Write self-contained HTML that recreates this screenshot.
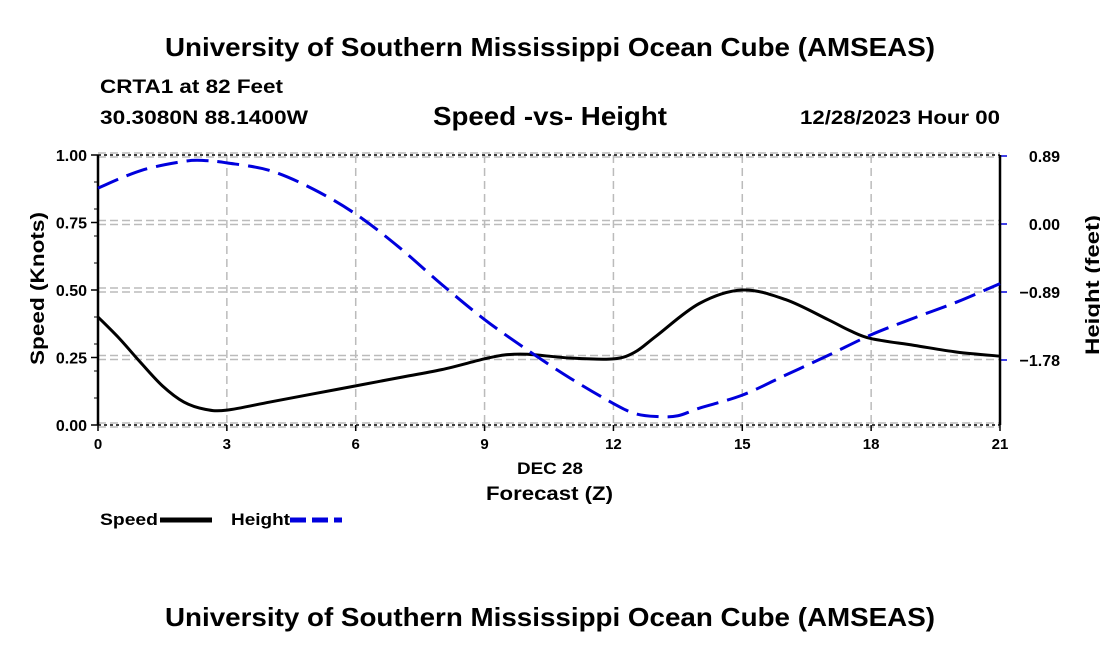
<!DOCTYPE html>
<html><head><meta charset="utf-8"><style>
body{margin:0;background:#fff;width:1100px;height:650px;overflow:hidden}
svg text{font-family:"Liberation Sans",Arial,sans-serif;font-weight:bold;fill:#000}
</style></head><body>
<svg id="chart" width="1100" height="650" xmlns="http://www.w3.org/2000/svg">
<text x="165" y="56" font-size="26" textLength="770" lengthAdjust="spacingAndGlyphs">University of Southern Mississippi Ocean Cube (AMSEAS)</text>
<text x="100" y="93" font-size="19" textLength="183" lengthAdjust="spacingAndGlyphs">CRTA1 at 82 Feet</text>
<text x="100" y="124" font-size="19" textLength="208" lengthAdjust="spacingAndGlyphs">30.3080N  88.1400W</text>
<text x="433" y="125" font-size="26" textLength="234" lengthAdjust="spacingAndGlyphs">Speed -vs- Height</text>
<text x="800" y="124" font-size="19" textLength="200" lengthAdjust="spacingAndGlyphs">12/28/2023 Hour 00</text>
<g id="grid"></g>
<g id="axes"></g>
<g id="series"></g>
<text x="517" y="474" font-size="17" textLength="66" lengthAdjust="spacingAndGlyphs">DEC 28</text>
<text x="486" y="500" font-size="19" textLength="127" lengthAdjust="spacingAndGlyphs">Forecast (Z)</text>
<text transform="translate(44,365) rotate(-90)" font-size="19" textLength="153" lengthAdjust="spacingAndGlyphs">Speed (Knots)</text>
<text transform="translate(1099,355) rotate(-90)" font-size="19" textLength="140" lengthAdjust="spacingAndGlyphs">Height (feet)</text>
<g>
<text x="100" y="525" font-size="17" textLength="58" lengthAdjust="spacingAndGlyphs">Speed</text>
<line x1="160" y1="520" x2="212" y2="520" stroke="#000" stroke-width="5"/>
<text x="231" y="525" font-size="17" textLength="59" lengthAdjust="spacingAndGlyphs">Height</text>
<line x1="290" y1="520" x2="342" y2="520" stroke="#0000dd" stroke-width="5" stroke-dasharray="16,6"/>
</g>
<text x="165" y="626" font-size="26" textLength="770" lengthAdjust="spacingAndGlyphs">University of Southern Mississippi Ocean Cube (AMSEAS)</text>
</svg>
<script>
const hours=[0,0.5,1,1.5,2,2.5,3,4,5,6,7,8,9,9.5,10,11,12,12.5,13,14,15,16,17,17.5,18,19,20,21];
const speed=[0.40,0.32,0.23,0.145,0.085,0.058,0.055,0.085,0.115,0.145,0.175,0.205,0.245,0.26,0.262,0.248,0.245,0.27,0.33,0.45,0.50,0.465,0.39,0.35,0.32,0.295,0.27,0.255];
const hHours=[0,1,2,2.5,3,4,5,6,7,8,9,10,11,12,12.5,13,13.5,14,15,16,17,18,19,20,21];
const height=[0.47,0.70,0.82,0.83,0.80,0.70,0.46,0.13,-0.30,-0.79,-1.25,-1.65,-2.02,-2.35,-2.48,-2.52,-2.51,-2.41,-2.24,-1.98,-1.72,-1.45,-1.23,-1.02,-0.78];
const xTicks=[0,3,6,9,12,15,18,21];
const yTicks=[0,0.25,0.5,0.75,1.0];
const yTickLabels=["0.00","0.25","0.50","0.75","1.00"];
const rTicks=[0.89,0,-0.89,-1.78];
const rTickLabels=["0.89","0.00","\u22120.89","\u22121.78"];
const X0=98,X1=1000,Y0=425,Y1=155;
const xs=t=>X0+(X1-X0)*t/21;
const ys=v=>Y0-(Y0-Y1)*v;
const yr=h=>224-h*(68/0.89);
const NS="http://www.w3.org/2000/svg";
function mk(tag,attrs,parent){const e=document.createElementNS(NS,tag);for(const k in attrs)e.setAttribute(k,attrs[k]);parent.appendChild(e);return e;}
function smooth(p){let d='M'+p[0][0]+','+p[0][1];for(let i=0;i<p.length-1;i++){const a=p[i-1]||p[i],b=p[i],c=p[i+1],e=p[i+2]||c;
d+=' C'+(b[0]+(c[0]-a[0])/6)+','+(b[1]+(c[1]-a[1])/6)+' '+(c[0]-(e[0]-b[0])/6)+','+(c[1]-(e[1]-b[1])/6)+' '+c[0]+','+c[1];}return d;}
const grid=document.getElementById('grid'),axes=document.getElementById('axes'),series=document.getElementById('series');
xTicks.forEach(t=>{if(t>0&&t<21){const l=mk('line',{x1:xs(t),x2:xs(t),y1:Y1,y2:Y0,stroke:'#bbb','stroke-width':1.5,'stroke-dasharray':'8,5'},grid);

}
const tk=mk('line',{x1:xs(t),x2:xs(t),y1:Y0,y2:Y0+6,stroke:'#000','stroke-width':1.5},axes);


const tx=mk('text',{x:xs(t),y:Y0+24,'font-size':15,'text-anchor':'middle'},axes);tx.textContent=t;

});
yTicks.forEach((v,i)=>{[0,4].forEach(o=>{const l=mk('line',{x1:X0,x2:X1,y1:ys(v)+o-2,y2:ys(v)+o-2,stroke:'#bbb','stroke-width':1.5,'stroke-dasharray':'8,4'},grid);

});
const tk=mk('line',{x1:X0-7,x2:X0,y1:ys(v),y2:ys(v),stroke:'#000','stroke-width':1.5},axes);


const tx=mk('text',{x:X0-11,y:ys(v)+6,'font-size':16,'text-anchor':'end'},axes);tx.textContent=yTickLabels[i];

});
for(let v=0.1;v<1;v+=0.1){mk('line',{x1:X0-4,x2:X0,y1:ys(v),y2:ys(v),stroke:'#000','stroke-width':1},axes);}
rTicks.forEach((h,i)=>{const tk=mk('line',{x1:X1,x2:X1+7,y1:yr(h),y2:yr(h),stroke:'#0000dd','stroke-width':1.5},axes);


const tx=mk('text',{x:1060,y:yr(h)+6,'font-size':16,'text-anchor':'end'},axes);tx.textContent=rTickLabels[i];

});
[Y1,Y0].forEach(y=>{const l=mk('line',{x1:X0,x2:X1,y1:y,y2:y,stroke:'#000','stroke-width':1.5,'stroke-dasharray':'3,3'},axes);

});
[X0,X1].forEach(x=>{const l=mk('line',{x1:x,x2:x,y1:Y1,y2:Y0,stroke:'#000','stroke-width':2.5},axes);

});
const sp=mk('path',{d:smooth(hours.map((t,i)=>[xs(t),ys(speed[i])])),fill:'none',stroke:'#000','stroke-width':3,'stroke-linejoin':'round'},series);


const hp=mk('path',{d:smooth(hHours.map((t,i)=>[xs(t),yr(height[i])])),fill:'none',stroke:'#0000dd','stroke-width':3,'stroke-dasharray':'22,9'},series);


</script>
</body></html>
